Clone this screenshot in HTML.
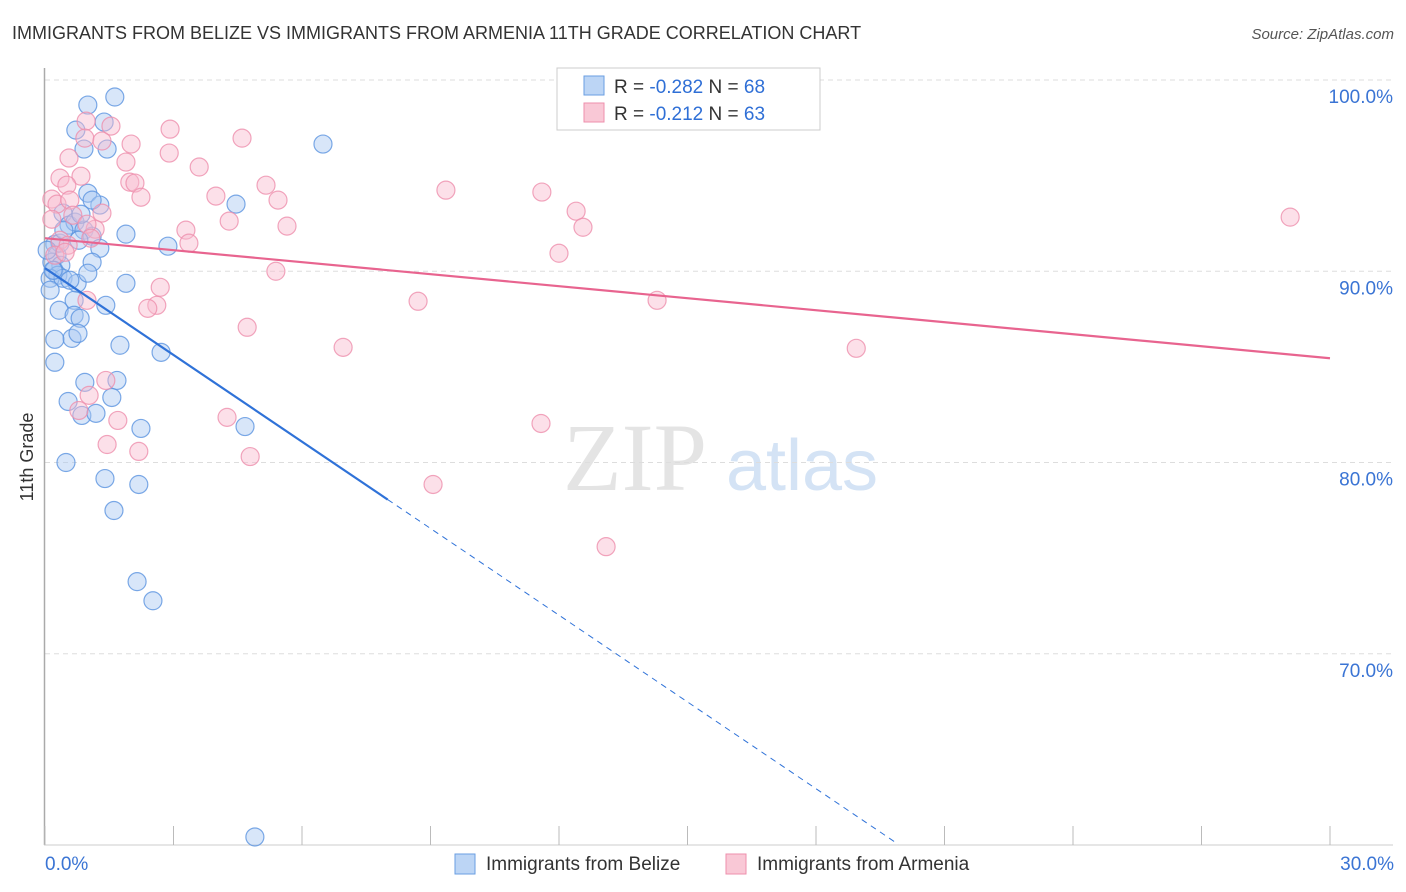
<!DOCTYPE html>
<html><head><meta charset="utf-8"><style>
body{margin:0;background:#fff;font-family:"Liberation Sans",sans-serif}
svg{display:block}
</style></head><body>
<svg id="chart" width="1406" height="892" xmlns="http://www.w3.org/2000/svg">
<text x="12" y="39" font-size="18" fill="#333">IMMIGRANTS FROM BELIZE VS IMMIGRANTS FROM ARMENIA 11TH GRADE CORRELATION CHART</text>
<text x="1394" y="39" font-size="15" fill="#555" font-style="italic" text-anchor="end">Source: ZipAtlas.com</text>
<text x="33" y="457" font-size="18" fill="#333" text-anchor="middle" transform="rotate(-90 33 457)">11th Grade</text>
<g><text x="635" y="490" font-size="96" fill="#e4e4e4" font-family="Liberation Serif,serif" text-anchor="middle">ZIP</text><text x="802" y="490" font-size="72" fill="#d4e3f5" text-anchor="middle">atlas</text></g>
<g id="grid"></g><g id="axes"></g><g id="marks"></g>
<g>
<rect x="557" y="68" width="263" height="62" fill="#fff" stroke="#ccc"/>
<rect x="584" y="76" width="20" height="19" fill="#bcd5f5" stroke="#6a9ee2"/>
<text x="614" y="93" font-size="19" fill="#333">R = <tspan fill="#2f6fd6">-0.282</tspan>   N = <tspan fill="#2f6fd6">68</tspan></text>
<rect x="584" y="103" width="20" height="19" fill="#f9c8d6" stroke="#ee8fac"/>
<text x="614" y="120" font-size="19" fill="#333">R =  <tspan fill="#2f6fd6">-0.212</tspan>   N = <tspan fill="#2f6fd6">63</tspan></text>
</g>
<g>
<rect x="455" y="854" width="20" height="20" fill="#bcd5f5" stroke="#6a9ee2"/>
<text x="486" y="870" font-size="19" fill="#333">Immigrants from Belize</text>
<rect x="726" y="854" width="20" height="20" fill="#f9c8d6" stroke="#ee8fac"/>
<text x="757" y="870" font-size="19" fill="#333">Immigrants from Armenia</text>
</g>
</svg>
<script>
const belizeX=[1.00,1.63,0.72,0.91,1.38,1.45,1.00,1.28,0.42,0.56,0.70,0.91,1.89,1.10,0.79,1.28,2.87,0.23,0.28,0.16,1.10,0.37,0.21,0.30,0.12,0.42,0.12,0.75,0.68,1.42,1.89,0.33,0.68,0.82,0.63,0.77,0.23,1.75,2.71,0.23,0.93,1.68,0.54,1.56,0.86,1.19,2.24,4.67,0.49,1.40,2.19,1.61,2.15,2.52,4.90,4.46,6.49,1.10,0.84,0.35,0.58,1.00,0.19,0.44,0.05];
const belizeY=[98.69,99.11,97.38,96.39,97.80,96.39,94.08,93.46,93.04,92.41,92.57,92.15,91.94,91.83,91.62,91.20,91.31,91.41,90.84,90.47,90.47,90.31,90.05,89.79,89.63,89.63,89.01,89.37,88.48,88.22,89.37,87.96,87.70,87.54,86.49,86.75,86.44,86.13,85.76,85.24,84.19,84.29,83.19,83.40,82.46,82.57,81.78,81.88,80.00,79.16,78.85,77.49,73.77,72.77,60.42,93.51,96.65,93.72,92.98,91.47,89.53,89.90,90.05,92.15,91.10];
const armeniaX=[0.96,1.54,0.93,2.01,1.33,2.92,4.60,2.90,0.56,1.89,3.60,0.84,0.35,0.51,1.98,2.10,2.24,3.99,5.16,5.44,9.36,11.60,12.40,29.07,0.16,0.28,0.58,0.65,1.33,1.17,0.98,0.16,3.29,4.30,5.65,12.56,0.35,0.54,1.07,3.36,12.00,0.23,0.47,5.39,2.69,2.61,2.40,8.71,14.29,0.98,4.72,6.96,18.94,1.42,1.03,0.79,1.70,4.25,11.58,1.45,2.19,4.79,9.06,13.10];
const armeniaY=[97.85,97.59,96.96,96.65,96.81,97.43,96.96,96.18,95.92,95.71,95.45,94.97,94.87,94.50,94.66,94.61,93.87,93.93,94.50,93.72,94.24,94.14,93.14,92.83,93.77,93.51,93.72,92.93,93.04,92.20,92.46,92.72,92.15,92.62,92.36,92.30,91.62,91.36,91.73,91.47,90.94,90.84,90.99,90.00,89.16,88.22,88.06,88.43,88.48,88.48,87.07,86.02,85.97,84.29,83.51,82.72,82.20,82.36,82.04,80.94,80.58,80.31,78.85,75.60];
const yTicks=[100,90,80,70];
const yTickLabels=["100.0%","90.0%","80.0%","70.0%"];
const xTicks=[0,3,6,9,12,15,18,21,24,27,30];
const xTickLabels=["0.0%","30.0%"];
const belizeTrend=[90.16,-1.512,8.0,19.92]; // intercept, slope, solid end, dashed end
const armeniaTrend=[91.73,-0.2093,30];
const X=v=>45+v*42.833, Y=v=>80+(100-v)*19.125;
const NS="http://www.w3.org/2000/svg";
function mk(tag,attrs,parent){const e=document.createElementNS(NS,tag);for(const k in attrs)e.setAttribute(k,attrs[k]);document.getElementById(parent).appendChild(e);return e;}
yTicks.forEach((t,i)=>{
 const l=mk('line',{x1:45,x2:1393,y1:Y(t),y2:Y(t),stroke:'#ddd','stroke-dasharray':'5,4'},'grid');
 
 
 const tx=mk('text',{x:1393,y:Y(t)+23,'font-size':19,fill:'#3a74d4','text-anchor':'end'},'grid');
 tx.textContent=yTickLabels[i];
 
 
});
const ax=mk('line',{x1:44.5,x2:44.5,y1:68,y2:845,stroke:'#aaa','stroke-width':1.5},'axes');


const bx=mk('line',{x1:44,x2:1393,y1:845,y2:845,stroke:'#ccc'},'axes');


xTicks.forEach(t=>{
 const l=mk('line',{x1:X(t),x2:X(t),y1:826,y2:845,stroke:'#bbb'},'axes');
 
 
});
[[0,'start',45],[30,'end',1394]].forEach((d,i)=>{
 const tx=mk('text',{x:d[2],y:870,'font-size':19,fill:'#3a74d4','text-anchor':d[1]},'axes');
 tx.textContent=xTickLabels[i];
 
 
});
function dots(xs,ys,fill,stroke,name){
 xs.forEach((x,i)=>{
  const c=mk('circle',{cx:X(x),cy:Y(ys[i]),r:9,fill:fill,'fill-opacity':0.45,stroke:stroke,'stroke-opacity':0.8,'stroke-width':1.2},'marks');
  
  
 });
}
dots(belizeX,belizeY,'#a9c8f2','#5b93e0','belize-point');
dots(armeniaX,armeniaY,'#f8bace','#ee8fac','armenia-point');
const bt=belizeTrend;
const l1=mk('line',{x1:X(0),y1:Y(bt[0]),x2:X(bt[2]),y2:Y(bt[0]+bt[1]*bt[2]),stroke:'#2f72d8','stroke-width':2.2},'marks');


const l2=mk('line',{x1:X(bt[2]),y1:Y(bt[0]+bt[1]*bt[2]),x2:X(bt[3]),y2:Y(bt[0]+bt[1]*bt[3]),stroke:'#2f72d8','stroke-width':1,'stroke-dasharray':'6,5'},'marks');


const at=armeniaTrend;
const l3=mk('line',{x1:X(0),y1:Y(at[0]),x2:X(at[2]),y2:Y(at[0]+at[1]*at[2]),stroke:'#e8648f','stroke-width':2.2},'marks');


</script>
</body></html>
